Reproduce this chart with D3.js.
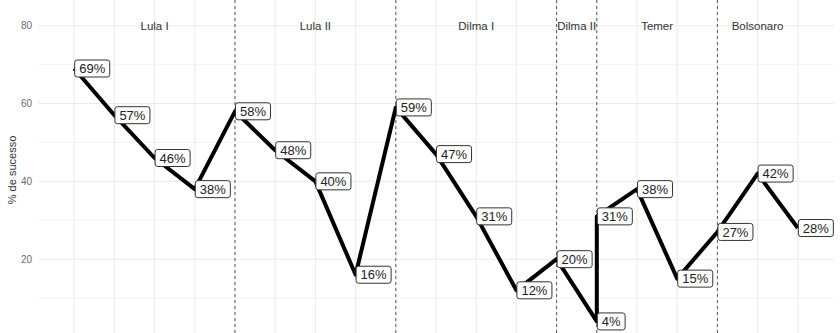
<!DOCTYPE html>
<html>
<head>
<meta charset="utf-8">
<script src="https://cdn.jsdelivr.net/npm/d3@7"></script>
<style>
  body { margin: 0; background: #fff; }
  svg { display: block; font-family: "Liberation Sans", Arial, sans-serif; }
</style>
</head>
<body>
<div id="chart"></div>
<script>
// one point per year, 2016 has two (Dilma II end / Temer start)
var years = [2003, 2004, 2005, 2006, 2007, 2008, 2009, 2010, 2011, 2012, 2013, 2014, 2015, 2016, 2016, 2017, 2018, 2019, 2020, 2021];
var success = [69, 57, 46, 38, 58, 48, 40, 16, 59, 47, 31, 12, 20, 4, 31, 38, 15, 27, 42, 28];

var govNames = ["Lula I", "Lula II", "Dilma I", "Dilma II", "Temer", "Bolsonaro"];
var govLabelX = [2005, 2009, 2013, 2015.5, 2017.5, 2020];
var govStarts = [2007, 2011, 2015, 2016, 2019];

var yTicks = [20, 40, 60, 80];
var yMinor = [10, 30, 50, 70];

var width = 840, height = 333;
var panel = {left: 38, right: 834, top: 0, bottom: 333};

var svg = d3.select("#chart").append("svg")
  .attr("width", width)
  .attr("height", height);

var x = d3.scaleLinear()
  .domain([2002.1, 2021.9])
  .range([panel.left, panel.right]);

var y = d3.scaleLinear()
  .domain([0, 80])
  .range([337, 25.7]);

// grid
var grid = svg.append("g");
grid.selectAll(".minor")
  .data(yMinor)
  .enter().append("line")
  .attr("x1", panel.left).attr("x2", panel.right)
  .attr("y1", function(d) { return y(d); })
  .attr("y2", function(d) { return y(d); })
  .attr("stroke", "#f0f0f0").attr("stroke-width", 0.8);
grid.selectAll(".major")
  .data(yTicks)
  .enter().append("line")
  .attr("x1", panel.left).attr("x2", panel.right)
  .attr("y1", function(d) { return y(d); })
  .attr("y2", function(d) { return y(d); })
  .attr("stroke", "#ebebeb").attr("stroke-width", 1.1);
grid.selectAll(".vert")
  .data(d3.range(2003, 2022))
  .enter().append("line")
  .attr("x1", function(d) { return x(d); })
  .attr("x2", function(d) { return x(d); })
  .attr("y1", panel.top).attr("y2", panel.bottom)
  .attr("stroke", "#ebebeb").attr("stroke-width", 1);

// y axis
var yAxis = d3.axisLeft(y).tickValues(yTicks).tickSize(0).tickPadding(6);
var ax = svg.append("g")
  .attr("transform", "translate(" + panel.left + ",0)")
  .call(yAxis);
ax.select(".domain").remove();
ax.selectAll("text")
  .attr("fill", "#6b6b6b")
  .style("font-size", "10px")
  .style("font-family", "Liberation Sans, Arial, sans-serif");

svg.append("text")
  .attr("transform", "translate(16,170) rotate(-90)")
  .attr("text-anchor", "middle")
  .attr("fill", "#333")
  .style("font-size", "11px")
  .text("% de sucesso");

// government boundaries
svg.selectAll(".gov")
  .data(govStarts)
  .enter().append("line")
  .attr("x1", function(d) { return x(d); })
  .attr("x2", function(d) { return x(d); })
  .attr("y1", panel.top).attr("y2", panel.bottom)
  .attr("stroke", "#555")
  .attr("stroke-width", 1)
  .attr("stroke-dasharray", "3,3");

svg.selectAll(".govname")
  .data(govNames)
  .enter().append("text")
  .attr("x", function(d, i) { return x(govLabelX[i]); })
  .attr("y", y(80))
  .attr("dy", "0.35em")
  .attr("text-anchor", "middle")
  .attr("fill", "#333")
  .style("font-size", "11.5px")
  .text(function(d) { return d; });

// line
var pts = years.map(function(yr, i) { return [yr, success[i]]; });
svg.append("path")
  .datum(pts)
  .attr("fill", "none")
  .attr("stroke", "#000")
  .attr("stroke-width", 4)
  .attr("stroke-linejoin", "round")
  .attr("d", d3.line()
    .x(function(d) { return x(d[0]); })
    .y(function(d) { return y(d[1]); }));

// labels
var labels = svg.selectAll(".lab")
  .data(pts)
  .enter().append("g")
  .attr("transform", function(d) { return "translate(" + x(d[0]) + "," + y(d[1]) + ")"; });

labels.each(function(d) {
  var g = d3.select(this);
  var rect = g.append("rect");
  var t = g.append("text")
    .attr("x", 5)
    .attr("dy", "0.36em")
    .attr("fill", "#222")
    .style("font-size", "13px")
    .text(d[1] + "%");
  var w = t.node().getComputedTextLength();
  rect.attr("x", 0.5)
    .attr("y", -8.5)
    .attr("width", w + 9)
    .attr("height", 17)
    .attr("rx", 2.5)
    .attr("fill", "#fff")
    .attr("stroke", "#333")
    .attr("stroke-width", 1);
});
</script>
</body>
</html>
